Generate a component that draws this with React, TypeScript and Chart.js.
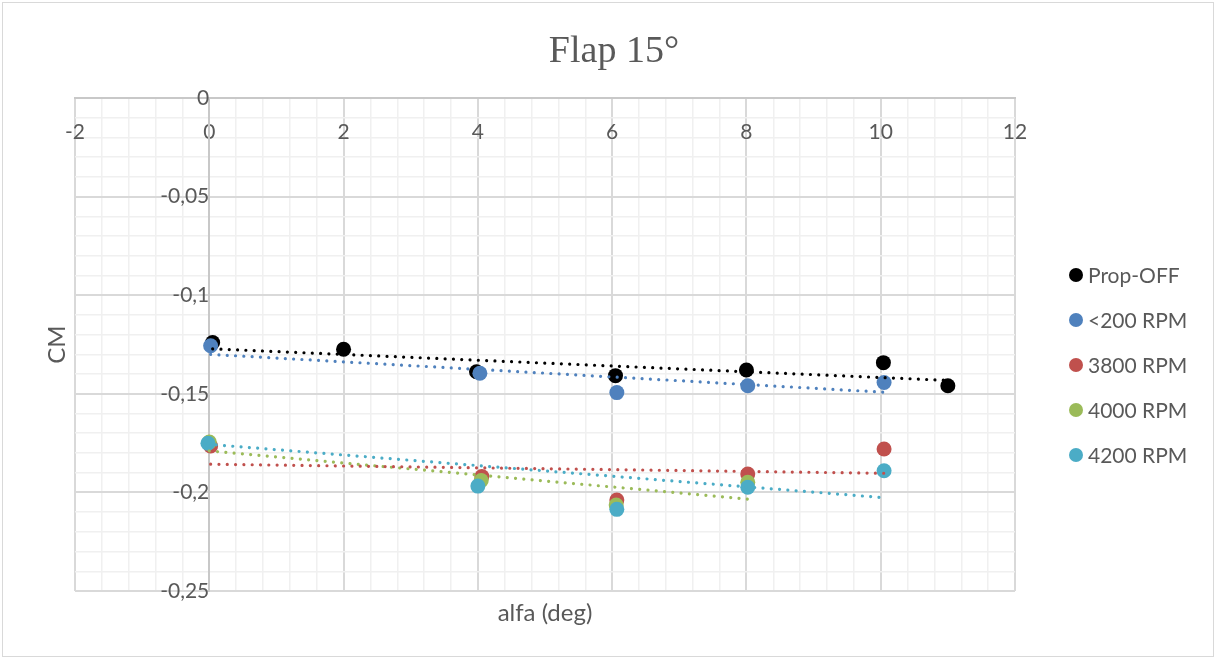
import React, { useEffect, useRef } from 'react';
import { Chart, registerables } from 'chart.js';

Chart.register(...registerables);

const chartTitle = 'Flap 15°';
const xAxisTitle = 'alfa (deg)';
const yAxisTitle = 'CM';

const xMajorTicks = [-2, 0, 2, 4, 6, 8, 10, 12];
const yMajorTicks = [0, -0.05, -0.1, -0.15, -0.2, -0.25];

const seriesNames = ['Prop-OFF', '<200 RPM', '3800 RPM', '4000 RPM', '4200 RPM'];
const seriesColors = ['#000000', '#4F81BD', '#C0504D', '#9BBB59', '#4BACC6'];

const alphaPropOff = [0.05, 2.0, 3.98, 6.05, 8.0, 10.04, 11.0];
const cmPropOff = [-0.124, -0.1274, -0.1388, -0.1408, -0.1379, -0.1342, -0.1459];
const alpha200 = [0.02, 4.03, 6.07, 8.02, 10.05];
const cm200 = [-0.1256, -0.1396, -0.1494, -0.1459, -0.1443];
const alpha3800 = [0.02, 4.06, 6.07, 8.02, 10.05];
const cm3800 = [-0.1765, -0.192, -0.2039, -0.1907, -0.178];
const alpha4000 = [0.0, 4.05, 6.06, 8.02];
const cm4000 = [-0.1745, -0.194, -0.2064, -0.1949];
const alpha4200 = [-0.02, 4.0, 6.07, 8.02, 10.05];
const cm4200 = [-0.1751, -0.1968, -0.2086, -0.1974, -0.189];

// dotted linear trendlines: end points
const trendAlphaPropOff = [0.05, 11.0];
const trendCmPropOff = [-0.1272, -0.1432];
const trendAlpha200 = [0.02, 10.05];
const trendCm200 = [-0.13, -0.1492];
const trendAlpha3800 = [0.02, 10.05];
const trendCm3800 = [-0.1857, -0.1903];
const trendAlpha4000 = [0.0, 8.02];
const trendCm4000 = [-0.179, -0.2034];
const trendAlpha4200 = [-0.02, 10.05];
const trendCm4200 = [-0.1756, -0.2027];

const seriesAlpha = [alphaPropOff, alpha200, alpha3800, alpha4000, alpha4200];
const seriesCm = [cmPropOff, cm200, cm3800, cm4000, cm4200];
const trendAlpha = [trendAlphaPropOff, trendAlpha200, trendAlpha3800, trendAlpha4000, trendAlpha4200];
const trendCm = [trendCmPropOff, trendCm200, trendCm3800, trendCm4000, trendCm4200];

const TEXT = '#595959';
const MAJOR = '#d9d9d9';
const MINOR = '#f0f0f0';
const FONT = 'Lato';

const findMajor = (v: number, list: number[]) => list.find((m) => Math.abs(m - v) < 1e-7);
const fmt = (v: number) => String(v).replace('.', ',');

const pairs = (xs: number[], ys: number[]) => xs.map((x, i) => ({ x, y: ys[i] }));

const decorPlugin = {
  id: 'decor',
  afterDraw(chart: any) {
    const ctx = chart.ctx as CanvasRenderingContext2D;
    const area = chart.chartArea;
    ctx.save();
    // outer frame
    ctx.strokeStyle = '#d9d9d9';
    ctx.lineWidth = 1;
    ctx.strokeRect(2.5, 2.5, chart.width - 5, chart.height - 5);
    // title
    ctx.fillStyle = TEXT;
    ctx.font = '38px "Liberation Serif"';
    ctx.textAlign = 'center';
    ctx.textBaseline = 'alphabetic';
    ctx.fillText(chartTitle, 614, 62);
    // x axis title
    ctx.font = `24px ${FONT}`;
    ctx.textBaseline = 'middle';
    ctx.fillText(xAxisTitle, (area.left + area.right) / 2, 613);
    // y axis title
    ctx.save();
    ctx.translate(57, (area.top + area.bottom) / 2);
    ctx.rotate(-Math.PI / 2);
    ctx.fillText(yAxisTitle, 0, 0);
    ctx.restore();
    // legend
    ctx.font = `21px ${FONT}`;
    ctx.textAlign = 'left';
    seriesNames.forEach((name, i) => {
      const y = 275 + i * 45;
      ctx.fillStyle = seriesColors[i];
      ctx.beginPath();
      ctx.arc(1076, y, 7, 0, Math.PI * 2);
      ctx.fill();
      ctx.fillStyle = TEXT;
      ctx.fillText(name, 1088, y + 1);
    });
    ctx.restore();
  },
};

export default function App() {
  const ref = useRef<HTMLCanvasElement>(null);

  useEffect(() => {
    document.body.style.margin = '0';
    const scatterSets = seriesNames.map((name, i) => ({
      type: 'scatter' as const,
      label: name,
      data: pairs(seriesAlpha[i], seriesCm[i]),
      backgroundColor: seriesColors[i],
      borderColor: seriesColors[i],
      pointRadius: 7.5,
      pointBorderWidth: 0,
      showLine: false,
      order: 10 - i,
    }));
    const trendSets = seriesNames.map((name, i) => ({
      type: 'scatter' as const,
      label: name + ' trend',
      data: pairs(trendAlpha[i], trendCm[i]),
      borderColor: seriesColors[i],
      backgroundColor: seriesColors[i],
      showLine: true,
      pointRadius: 0,
      borderWidth: 3.2,
      borderDash: [0.01, 8.3],
      borderCapStyle: 'round' as const,
      order: 0,
    }));

    const chart = new Chart(ref.current!, {
      type: 'scatter',
      data: { datasets: [...scatterSets, ...trendSets] as any },
      options: {
        animation: false,
        responsive: false,
        maintainAspectRatio: false,
        layout: { padding: { left: 75, right: 201, top: 98, bottom: 68 } },
        plugins: {
          legend: { display: false },
          title: { display: false },
          tooltip: { enabled: false },
        },
        scales: {
          x: {
            type: 'linear',
            position: { y: 0 } as any,
            min: -2,
            max: 12,
            ticks: {
              stepSize: 0.4,
              maxTicksLimit: 200,
              autoSkip: false,
              maxRotation: 0,
              padding: 16,
              color: TEXT,
              font: { family: FONT, size: 21 },
              callback: (v: any) => {
                const m = findMajor(Number(v), xMajorTicks);
                return m === undefined ? '' : fmt(m);
              },
            },
            grid: {
              color: (c: any) => (findMajor(c.tick?.value, xMajorTicks) !== undefined ? MAJOR : MINOR),
              lineWidth: (c: any) => (findMajor(c.tick?.value, xMajorTicks) !== undefined ? 2 : 1.5),
              tickLength: 6,
              tickColor: (c: any) => (findMajor(c.tick?.value, xMajorTicks) !== undefined ? MAJOR : 'rgba(0,0,0,0)'),
            },
            border: { color: '#c8c8c8', width: 2 },
          },
          y: {
            type: 'linear',
            position: { x: 0 } as any,
            min: -0.25,
            max: 0,
            ticks: {
              stepSize: 0.01,
              maxTicksLimit: 200,
              autoSkip: false,
              padding: 16,
              color: TEXT,
              font: { family: FONT, size: 21 },
              callback: (v: any) => {
                const m = findMajor(Number(v), yMajorTicks);
                return m === undefined ? '' : fmt(m);
              },
            },
            grid: {
              color: (c: any) => (findMajor(c.tick?.value, yMajorTicks) !== undefined ? MAJOR : MINOR),
              lineWidth: (c: any) => (findMajor(c.tick?.value, yMajorTicks) !== undefined ? 2 : 1.5),
              tickLength: 7,
              tickColor: (c: any) => (findMajor(c.tick?.value, yMajorTicks) !== undefined ? MAJOR : 'rgba(0,0,0,0)'),
            },
            border: { color: '#c8c8c8', width: 2 },
          },
        },
      },
      plugins: [decorPlugin],
    });
    return () => chart.destroy();
  }, []);

  return (
    <div style={{ position: 'fixed', left: 0, top: 0, width: 1216, height: 659, background: '#fff' }}>
      <canvas ref={ref} width={1216} height={659} style={{ width: 1216, height: 659, display: 'block' }} />
    </div>
  );
}
